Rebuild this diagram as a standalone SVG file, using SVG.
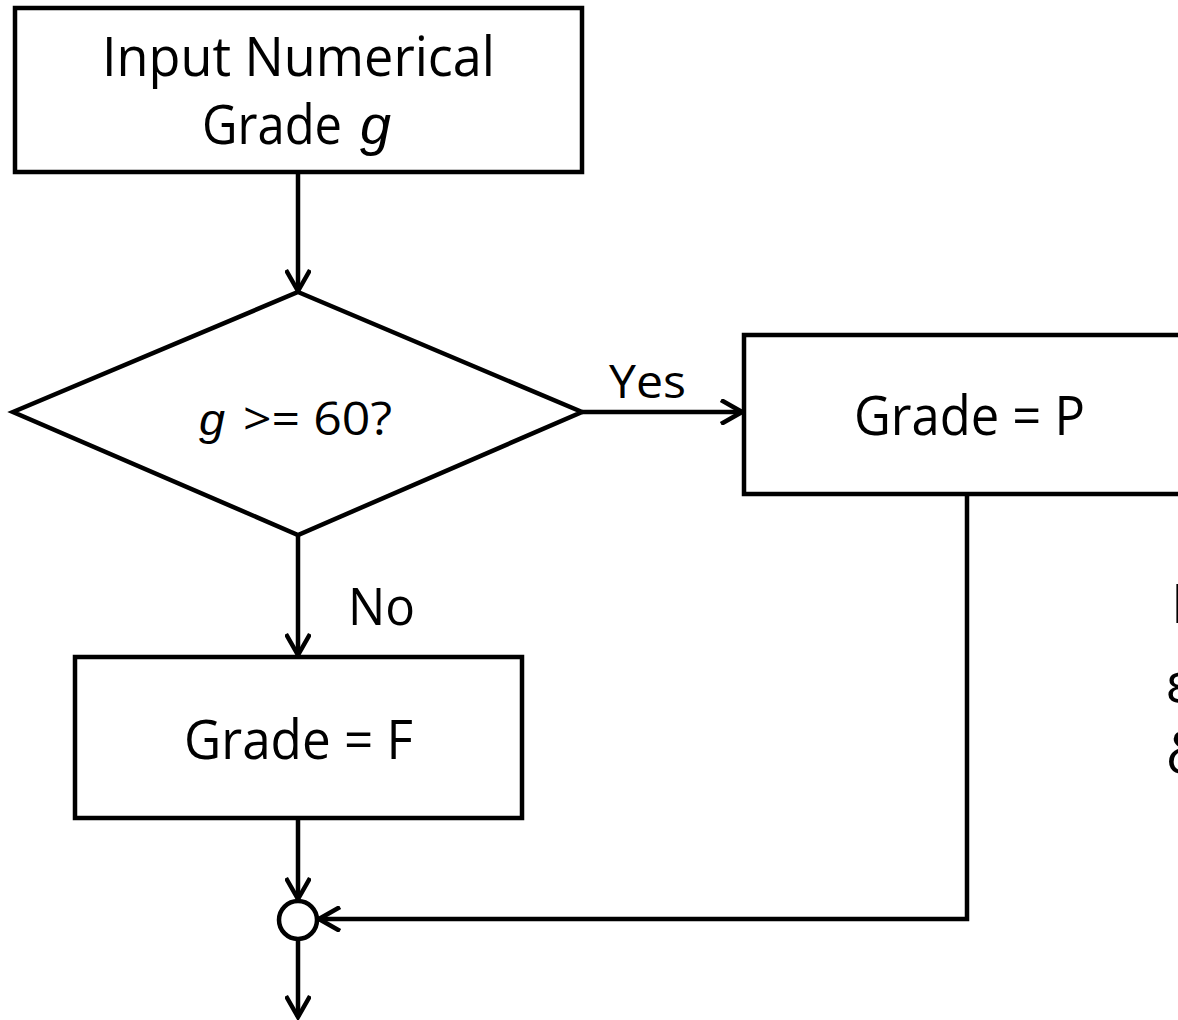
<svg xmlns="http://www.w3.org/2000/svg" width="1178" height="1020" viewBox="0 0 1178 1020">
<style>
.box{fill:#fff;stroke:#000;stroke-width:4.5;stroke-linejoin:miter}
.ln{fill:none;stroke:#000;stroke-width:4.5}
.t{font-family:"Open Sans",Lato,"Liberation Sans",sans-serif;font-size:55px;fill:#000}
.s{font-size:45px}
.m{font-size:51px}
.i{font-family:"Liberation Sans",Arial,sans-serif;font-style:italic}
</style>
<defs>
<marker id="ah" viewBox="0 0 26 26" refX="23" refY="13" markerWidth="26" markerHeight="26" markerUnits="userSpaceOnUse" orient="auto">
<path d="M2,1 L23,13 L2,25" fill="none" stroke="#000" stroke-width="4.5"/>
</marker>
</defs>
<g id="connectors">
<line class="ln" x1="298" y1="172" x2="298" y2="291" marker-end="url(#ah)"/>
<line class="ln" x1="582" y1="412" x2="742" y2="412" marker-end="url(#ah)"/>
<line class="ln" x1="298" y1="535" x2="298" y2="655" marker-end="url(#ah)"/>
<line class="ln" x1="298" y1="818" x2="298" y2="899" marker-end="url(#ah)"/>
<polyline class="ln" points="967,494 967,919 319,919" marker-end="url(#ah)"/>
<line class="ln" x1="298" y1="941" x2="298" y2="1017" marker-end="url(#ah)"/>
<text class="t s" x="609" y="398" textLength="77" lengthAdjust="spacingAndGlyphs">Yes</text>
<text class="t m" x="348" y="625" textLength="67" lengthAdjust="spacingAndGlyphs">No</text>
</g>
<g id="input">
<rect class="box" x="15" y="8" width="567" height="164"/>
<text class="t" x="102" y="76" textLength="393" lengthAdjust="spacingAndGlyphs">Input Numerical</text>
<text class="t" x="202" y="144" textLength="140" lengthAdjust="spacingAndGlyphs">Grade</text>
<text class="t i" x="360" y="144" textLength="31" lengthAdjust="spacingAndGlyphs">g</text>
</g>
<g id="decision">
<polygon class="box" points="298,292 582,412 298,535 13,412"/>
<text class="t s i" x="199" y="435" textLength="26" lengthAdjust="spacingAndGlyphs">g</text>
<text class="t s" x="243" y="435" textLength="149" lengthAdjust="spacingAndGlyphs">&gt;= 60?</text>
</g>
<g id="pass">
<rect class="box" x="744" y="335" width="450" height="159"/>
<text class="t" x="854" y="435" textLength="231" lengthAdjust="spacingAndGlyphs">Grade = P</text>
</g>
<g id="fail">
<rect class="box" x="75" y="657" width="447" height="161"/>
<text class="t" x="184" y="759" textLength="229" lengthAdjust="spacingAndGlyphs">Grade = F</text>
</g>
<g id="merge">
<circle class="box" cx="298" cy="920" r="19"/>
</g>
<g id="note">
<text class="t" x="1171" y="623">N</text>
<text class="t" x="1166" y="702">ε</text>
<text class="t" x="1166" y="773">δ</text>
</g>
</svg>
